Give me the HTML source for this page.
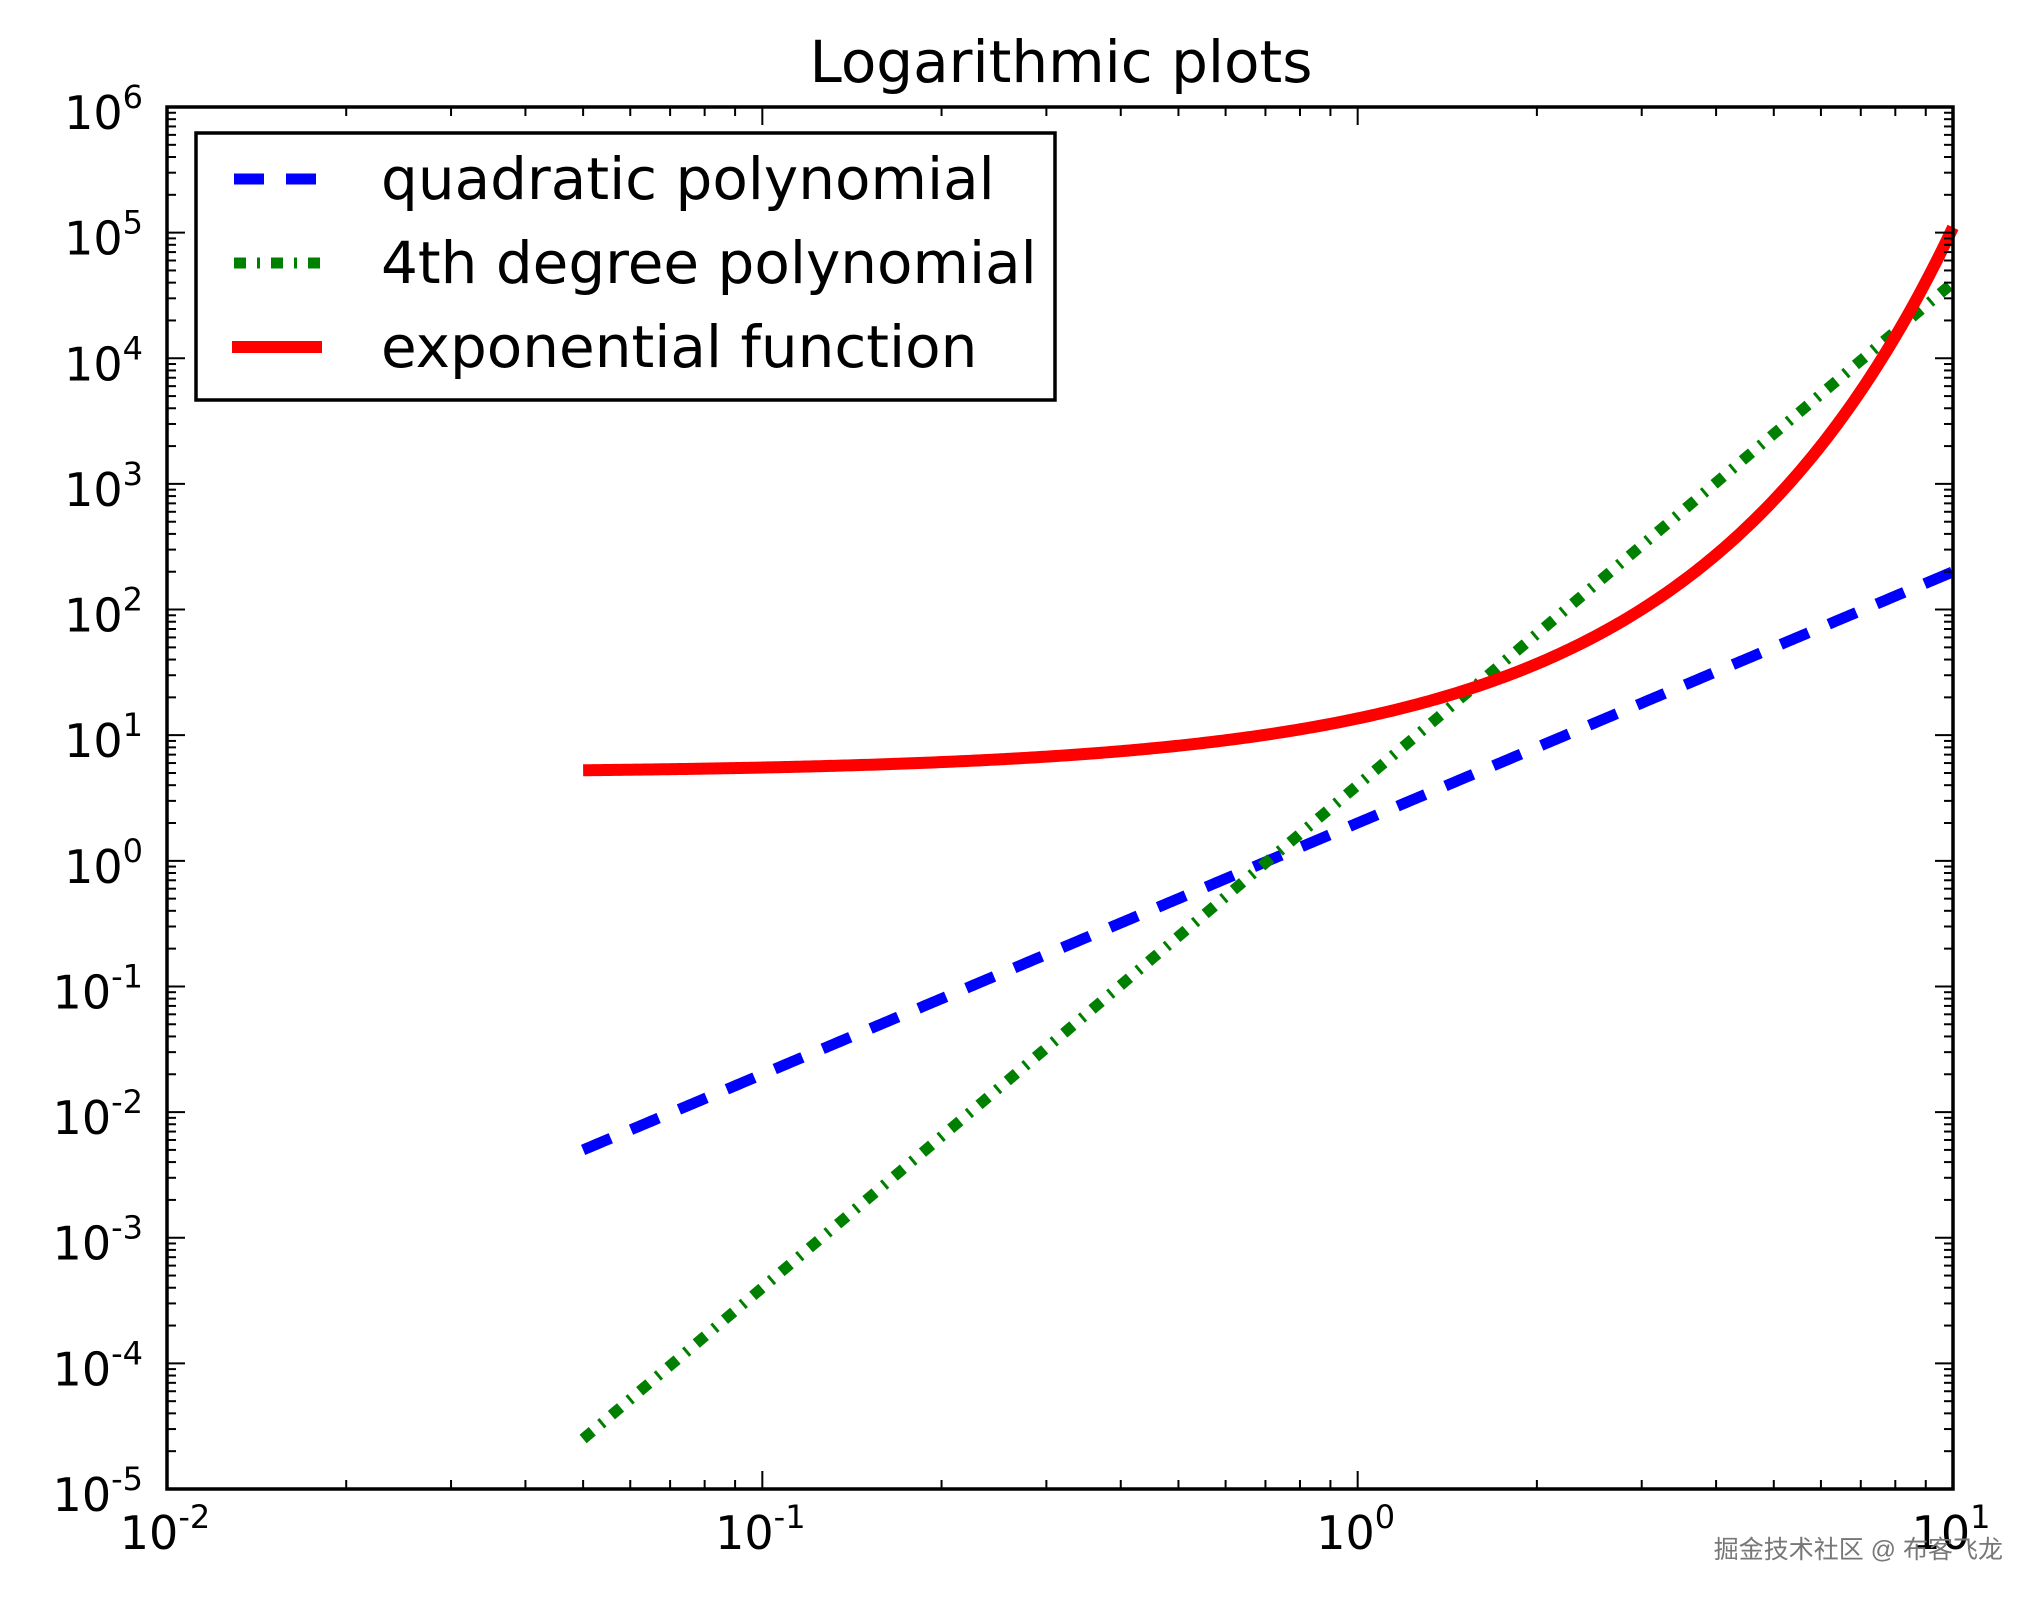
<!DOCTYPE html>
<html><head><meta charset="utf-8"><style>
html,body{margin:0;padding:0;background:#fff;}
svg{display:block;}
text{font-family:"DejaVu Sans","Liberation Sans",sans-serif;fill:#000;}
</style></head><body>
<svg id="s" width="2041" height="1601" viewBox="0 0 2041 1601" xmlns="http://www.w3.org/2000/svg">
<rect width="2041" height="1601" fill="#fff"/>
<text x="1061" y="82" font-size="58" text-anchor="middle">Logarithmic plots</text>
<g id="curves"></g>
<g id="ticks" stroke="#000" stroke-width="2"></g>
<rect x="167" y="107" width="1786" height="1382" fill="none" stroke="#000" stroke-width="3.5"/>
<g id="labels"></g>
<rect x="196" y="133" width="859" height="267" fill="#fff" stroke="#000" stroke-width="3.5"/>
<line x1="234" y1="179" x2="320" y2="179" stroke="#0000ff" stroke-width="11" stroke-dasharray="30,22"/>
<line x1="234" y1="263" x2="320" y2="263" stroke="#008000" stroke-width="11" stroke-dasharray="12,11,3,11"/>
<line x1="232" y1="347" x2="322" y2="347" stroke="#ff0000" stroke-width="12"/>
<text x="381" y="199" font-size="58">quadratic polynomial</text>
<text x="381" y="283" font-size="58">4th degree polynomial</text>
<text x="381" y="367" font-size="58">exponential function</text>
<text x="2003" y="1558" font-size="25" text-anchor="end" style="fill:#777;font-family:'Liberation Sans','Noto Sans CJK SC',sans-serif">掘金技术社区 @ 布客飞龙</text>
</svg>
<script>
var L=167,R=1953,T=107,B=1489;
function X(v){return L+(Math.log10(v)+2)/3*(R-L);}
function Y(v){return B-(Math.log10(v)+5)/11*(B-T);}
var ns="http://www.w3.org/2000/svg";
function el(p,t,a,txt){var e=document.createElementNS(ns,t);for(var k in a)e.setAttribute(k,a[k]);if(txt!=null)e.textContent=txt;p.appendChild(e);return e;}
var cv=document.getElementById('curves');
function path(f,col,w,dash){var d="";for(var i=0;i<=400;i++){var x=0.05*Math.pow(200,i/400);var y=f(x);d+=(i?"L":"M")+X(x).toFixed(2)+","+Y(y).toFixed(2);}
var a={d:d,fill:"none",stroke:col,"stroke-width":w};if(dash)a["stroke-dasharray"]=dash;el(cv,"path",a);}
path(function(x){return 2*x*x},"#0000ff",11,"30,22");
path(function(x){return 4*Math.pow(x,4)},"#008000",11,"12,11,3,11");
path(function(x){return 5*Math.exp(x)},"#ff0000",12);
var tk=document.getElementById('ticks'),lb=document.getElementById('labels');
for(var e=-2;e<=1;e++){for(var m=1;m<=9;m++){if(e==1&&m>1)break;var x=X(m*Math.pow(10,e));var len=m==1?18:9;
el(tk,"line",{x1:x,y1:B,x2:x,y2:B-len});el(tk,"line",{x1:x,y1:T,x2:x,y2:T+len});}
var t=el(lb,"text",{x:X(Math.pow(10,e))-2,y:1549,"font-size":46,"text-anchor":"middle"});
t.appendChild(document.createTextNode("10"));el(t,"tspan",{"font-size":32,dy:-21},String(e));}
for(var e=-5;e<=6;e++){for(var m=1;m<=9;m++){if(e==6&&m>1)break;var y=Y(m*Math.pow(10,e));var len=m==1?18:9;
el(tk,"line",{x1:L,y1:y,x2:L+len,y2:y});el(tk,"line",{x1:R,y1:y,x2:R-len,y2:y});}
var t=el(lb,"text",{x:143,y:Y(Math.pow(10,e))+22,"font-size":46,"text-anchor":"end"});
t.appendChild(document.createTextNode("10"));el(t,"tspan",{"font-size":32,dy:-21},String(e));}
</script>
</body></html>
